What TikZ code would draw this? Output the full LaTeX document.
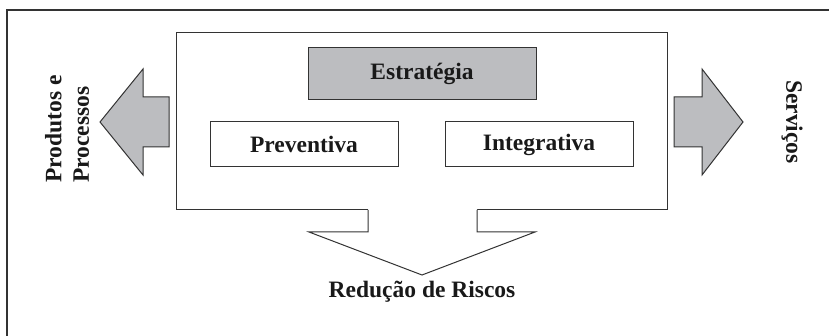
\documentclass[tikz,border=0pt]{standalone}
\usepackage{fontspec}
\setmainfont{Liberation Serif}
\definecolor{linec}{HTML}{333333}
\definecolor{fillg}{HTML}{BCBDC0}
\begin{document}
\begin{tikzpicture}[x=1pt,y=-1pt,
  txt/.style={font=\fontsize{23.5}{27.5}\selectfont\bfseries, text=black!90},
  boxn/.style={draw=linec, line width=1pt, inner sep=0pt},
  arr/.style={draw=linec, line width=1pt, fill=fillg, line join=miter}]
\useasboundingbox (0,0) rectangle (829,336);
\fill[white] (0,0) rectangle (829,336);
% outer frame (cropped)
\draw[linec, line width=1.6pt] (7,336) -- (7,10) -- (829,10);
% main box
\node[boxn, minimum width=491pt, minimum height=177pt] (main) at (421.5,121.5) {};
% inner boxes
\node[boxn, fill=fillg, minimum width=228pt, minimum height=52pt, txt] (estr) at (422,74) {Estratégia};
\node[boxn, minimum width=188pt, minimum height=45pt, txt] (prev) at (304,144.5) {Preventiva};
\node[boxn, minimum width=188pt, minimum height=45pt, txt] (integ) at (539,144.5) {Integrativa};
% left arrow
\draw[arr] (169,97) -- (143,97) -- (143,69) -- (100,122) -- (143,175) -- (143,147) -- (169,147) -- cycle;
% right arrow
\draw[arr] (674,97) -- (702,97) -- (702,69) -- (743,122) -- (702,175) -- (702,147) -- (674,147) -- cycle;
% bottom arrow
\fill[white] (368,209) -- (368,232) -- (309,232) -- (422,275) -- (535,232) -- (477,232) -- (477,209) -- cycle;
\draw[linec, line width=1pt, line join=miter] (368,210) -- (368,232) -- (309,232) -- (422,275) -- (535,232) -- (477,232) -- (477,210);
% labels
\node[txt] (red) at (422,292) {Redução de Riscos};
\node[txt, rotate=90, anchor=west, align=left, inner sep=0pt] (prod) at (67,183) {Produtos e\\Processos};
\node[txt, rotate=-90, inner sep=0pt] (serv) at (792,122) {Serviços};
\end{tikzpicture}
\end{document}
